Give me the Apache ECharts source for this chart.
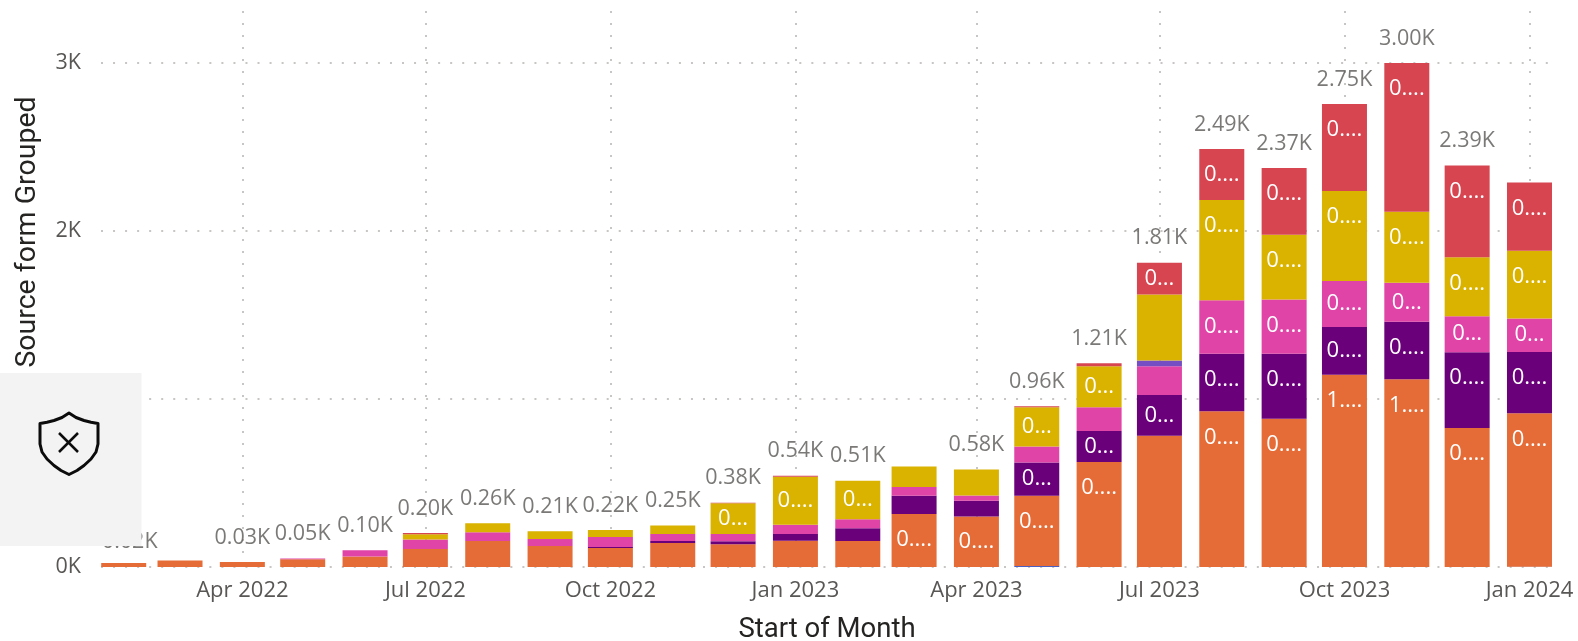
<!DOCTYPE html>
<html><head><meta charset="utf-8">
<style>html,body{margin:0;padding:0;background:#fff}#c{width:1578px;height:641px}</style>
<script src="https://cdn.jsdelivr.net/npm/echarts@6/dist/echarts.min.js"></script>
</head><body><div id="c"></div>
<script>
const months = ['2022-02-01','2022-03-01','2022-04-01','2022-05-01','2022-06-01','2022-07-01','2022-08-01','2022-09-01','2022-10-01','2022-11-01','2022-12-01','2023-01-01','2023-02-01','2023-03-01','2023-04-01','2023-05-01','2023-06-01','2023-07-01','2023-08-01','2023-09-01','2023-10-01','2023-11-01','2023-12-01','2024-01-01'];
const tickMonths = ['2022-04-01','2022-07-01','2022-10-01','2023-01-01','2023-04-01','2023-07-01','2023-10-01','2024-01-01'];
const tickLabels = ['Apr 2022','Jul 2022','Oct 2022','Jan 2023','Apr 2023','Jul 2023','Oct 2023','Jan 2024'];
const yTicks = [0,1000,2000,3000];

const baseBlue = [0,0,0,0,0,0,0,0,0,0,0,0,0,0,0,6,0,0,0,0,0,0,0,2];
const orange   = [24,38,30,46,62,107,155,125,113,143,135,157,155,315,300,418,625,782,927,883,1145,1117,827,913];
const purple   = [0,0,0,0,0,0,0,0,6,12,18,40,75,109,95,198,185,242,343,387,284,343,452,365];
const pink     = [0,0,0,4,38,56,52,42,60,42,44,54,54,52,30,95,141,171,318,323,274,232,214,200];
const violet   = [0,0,0,0,0,0,0,0,0,0,0,0,0,0,0,0,0,34,0,0,0,0,0,0];
const yellow   = [0,0,0,0,0,32,53,46,42,50,182,286,230,123,155,234,244,393,597,385,536,423,351,402];
const red      = [0,0,0,0,0,8,0,0,0,0,4,6,0,0,0,6,18,189,304,397,518,885,546,407];

const orangeText = ['','','','','','','','','','','','','','0....','0....','0....','0....','','0....','0....','1....','1....','0....','0....'];
const purpleText = ['','','','','','','','','','','','','','','','0...','0...','0...','0....','0....','0....','0....','0....','0....'];
const pinkText   = ['','','','','','','','','','','','','','','','','','','0....','0....','0....','0...','0...','0...'];
const yellowText = ['','','','','','','','','','','0...','0....','0...','','','0...','0...','','0....','0....','0....','0....','0....','0....'];
const redText    = ['','','','','','','','','','','','','','','','','','0...','0....','0....','0....','0....','0....','0....'];

const totals = [24,38,30,50,100,203,260,213,221,247,383,543,514,599,580,957,1213,1811,2489,2375,2757,3000,2390,2287];
const totalText = ['0.02K','','0.03K','0.05K','0.10K','0.20K','0.26K','0.21K','0.22K','0.25K','0.38K','0.54K','0.51K','','0.58K','0.96K','1.21K','1.81K','2.49K','2.37K','2.75K','3.00K','2.39K',''];

const LABEL_FONT = '"Open Sans"';
const GREY = '#595755';
const DAY = 86400000;
const ts = s => new Date(s+'T00:00:00Z').getTime();

function seg(name, color, values, texts){
  return {
    name, type:'bar', stack:'all', barWidth:45, color,
    encode:{x:1, y:0},
    data: months.map((m,i)=>{
      const t = texts ? texts[i] : '';
      return {
        value:[values[i], ts(m)],
        label:{
          show: !!t,
          formatter: t,
          position: values[i] > 310 ? 'insideTop' : 'inside',
          distance: 13,
          color:'#fff', fontFamily:LABEL_FONT, fontSize:22, lineHeight:26
        }
      };
    })
  };
}

const series = [
  seg('Blue','#4A5FC1',baseBlue),
  seg('Orange','#E66C37',orange,orangeText),
  seg('Purple','#6B007B',purple,purpleText),
  seg('Pink','#E044A7',pink,pinkText),
  seg('Violet','#744EC2',violet),
  seg('Yellow','#D9B300',yellow,yellowText),
  seg('Red','#D64550',red,redText),
  {
    name:'Total', type:'scatter', symbolSize:1, itemStyle:{color:'rgba(0,0,0,0)'}, silent:true, z:5,
    data: months.map((m,i)=>({
      value:[ts(m), totals[i]],
      label:{show:!!totalText[i], formatter:totalText[i], position:'top', distance:11,
        offset: i === 0 ? [6,3] : [0,0],
        color:GREY, fontFamily:LABEL_FONT, fontSize:21.5, lineHeight:26}
    }))
  }
];

const xTicks = tickMonths.map(ts);
const chart = echarts.init(document.getElementById('c'), null, {renderer:'canvas'});
const dottedX = {show:true, lineStyle:{type:[2,10], color:'#C8C6C4', width:2}};
const dottedY = {show:true, lineStyle:{type:[2,10.04], color:'#C8C6C4', width:2}};
const shieldPts = [[69,413],[62,417.5],[54,420.5],[47,422.3],[40,423.5],[40,444],[42,452],[47,459],[54,465.5],[61,470.5],[69,474.5],[77,470.5],[84,465.5],[91,459],[96,452],[98,444],[98,423.5],[91,422.3],[84,420.5],[76,417.5]];
chart.setOption({
  animation:false,
  backgroundColor:'#fff',
  legend:{show:false},
  grid:{left:101, right:25, top:11, bottom:74, containLabel:false, outerBoundsMode:'none'},
  xAxis:{
    type:'value',
    min:ts('2022-02-01')-11.29*DAY, max:ts('2024-01-01')+11.69*DAY,
    name:'Start of Month', nameLocation:'middle', nameGap:49,
    nameTextStyle:{fontFamily:'Roboto', fontSize:27.5, color:'#252423'},
    axisLine:{show:false},
    axisTick:{show:false, customValues:xTicks},
    axisLabel:{
      customValues:xTicks, margin:13, color:GREY, fontFamily:LABEL_FONT, fontSize:22,
      hideOverlap:false,
      formatter:v=>tickLabels[xTicks.indexOf(v)]
    },
    splitLine:dottedX
  },
  yAxis:{
    type:'value', min:0, max:3310,
    name:'Source form Grouped', nameLocation:'middle', nameGap:59, nameRotate:90,
    nameTextStyle:{fontFamily:'Roboto', fontSize:28.5, color:'#252423', padding:[0,0,0,114]},
    axisLine:{show:false},
    axisTick:{show:false, customValues:yTicks},
    axisLabel:{customValues:yTicks, margin:20, padding:[4,0,0,0], color:GREY, fontFamily:LABEL_FONT, fontSize:21.5,
      formatter:v=>(v/1000)+'K'},
    splitLine:dottedY
  },
  series,
  graphic:{elements:[
    {type:'rect', z:100, shape:{x:0,y:373,width:141.5,height:173}, style:{fill:'#F3F3F3'}},
    {type:'polygon', z:101, shape:{points:shieldPts}, style:{fill:'none', stroke:'#0b0b0b', lineWidth:3, lineJoin:'round'}},
    {type:'line', z:101, shape:{x1:59,y1:433,x2:78,y2:452}, style:{stroke:'#0b0b0b', lineWidth:2.5}},
    {type:'line', z:101, shape:{x1:78,y1:433,x2:59,y2:452}, style:{stroke:'#0b0b0b', lineWidth:2.5}}
  ]}
});
</script></body></html>
